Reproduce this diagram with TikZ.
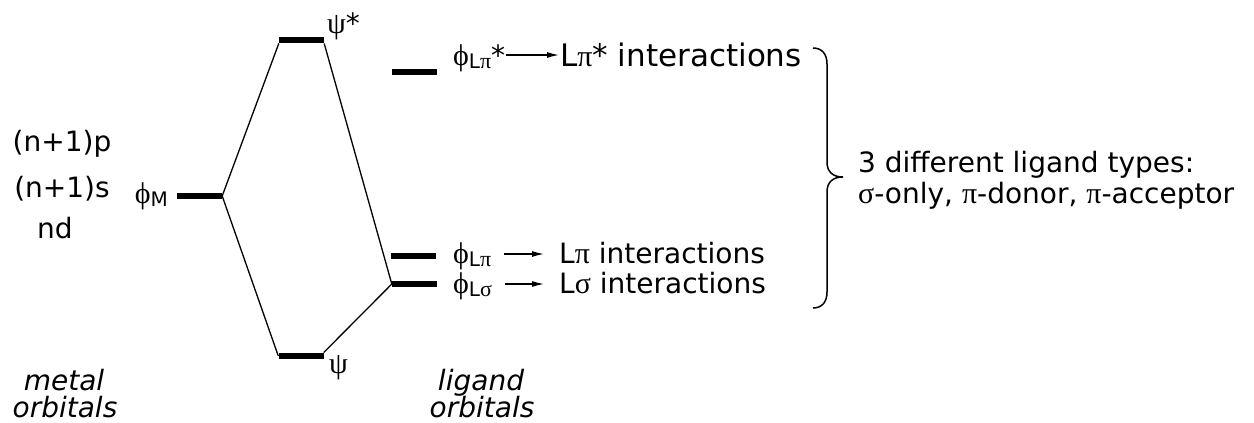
\documentclass[tikz,border=0pt]{standalone}
\usepackage{fontspec}
\setmainfont{DejaVu Sans}
\newfontfamily\gk{Liberation Serif}
\usetikzlibrary{arrows.meta}
\newcommand{\G}[1]{{\gk\fontsize{30}{30}\selectfont #1}}
\newcommand{\Sb}[1]{\raisebox{-3pt}{\fontsize{20}{20}\selectfont #1}}
\newcommand{\Sg}[1]{{\gk\fontsize{22}{22}\selectfont #1}}
\begin{document}
\begin{tikzpicture}[x=1pt,y=-1pt,
  every node/.style={font=\fontsize{28}{34}\selectfont, inner sep=1pt},
  lvl/.style={fill=black, minimum width=45pt, minimum height=6.5pt, inner sep=0pt},
  conn/.style={line width=1.3pt},
  arr/.style={line width=1.3pt, -{Latex[length=12pt,width=6pt]}},
  brace/.style={line width=1.5pt}]
\useasboundingbox (0,0) rectangle (1254,423);
% levels
\node[lvl] (M)   at (199.5,196) {};
\node[lvl] (Pst) at (301.5,40) {};
\node[lvl] (Psi) at (301,356) {};
\node[lvl] (Lps) at (414.5,72) {};
\node[lvl] (Lp)  at (413.5,256) {};
\node[lvl] (Ls)  at (414.5,284) {};
% connectors
\draw[conn] (M.east) -- (Pst.south west);
\draw[conn] (M.east) -- (Psi.west);
\draw[conn] (Pst.south east) -- (Ls.west);
\draw[conn] (Psi.north east) -- (Ls.west);
% metal labels
\node[anchor=base] (np) at (62,151) {(n+1)p};
\node[anchor=base] (ns) at (62,197) {(n+1)s};
\node[anchor=base] (nd) at (55,238) {nd};
\node[anchor=base east] (phiM) at (169,203) {\G{ϕ}\Sb{M}};
\node[anchor=base west] (lpst) at (326,34) {\G{ψ}*};
\node[anchor=base west] (lpsi) at (328,373) {\G{ψ}};
% ligand rows
\node[anchor=base west] (r1l) at (452,65) {\G{ϕ}\Sb{L\Sg{π}}*};
\node[anchor=base west, font=\fontsize{31}{36}\selectfont] (r1t) at (559,66) {L\G{π}* interactions};
\node[anchor=base west] (r2l) at (452,263) {\G{ϕ}\Sb{L\Sg{π}}};
\node[anchor=base west] (r2t) at (558,263) {L\G{π} interactions};
\node[anchor=base west] (r3l) at (452,293) {\G{ϕ}\Sb{L\Sg{σ}}};
\node[anchor=base west] (r3t) at (558,293) {L\G{σ} interactions};
\coordinate (y1) at (0,55);
\coordinate (y2) at (0,254);
\coordinate (y3) at (0,284);
\draw[arr] (r1l.east |- y1) -- (r1t.west |- y1);
\draw[arr] ([xshift=12pt]r2l.east |- y2) -- ([xshift=-14pt]r2t.west |- y2);
\draw[arr] ([xshift=12pt]r3l.east |- y3) -- ([xshift=-14pt]r3t.west |- y3);
% brace
\draw[brace] (813,48) .. controls (822,48) and (827,54) .. (827,64) -- (827,162)
  .. controls (827,172) and (833,177) .. (843,177)
  .. controls (833,177) and (827,182) .. (827,192) -- (827,292)
  .. controls (827,302) and (822,308) .. (813,308);
\node[anchor=base west] (t1) at (857,172) {3 different ligand types:};
\node[anchor=base west] (t2) at (857,203) {\G{σ}-only, \G{π}-donor, \G{π}-acceptor};
% bottom labels
\node[anchor=base, inner sep=0pt] (mo1) at (64,390) {\itshape metal};
\node[anchor=base, inner sep=0pt] (mo2) at (65,417) {\itshape orbitals};
\node[anchor=base, inner sep=0pt] (lo1) at (481,390) {\itshape ligand};
\node[anchor=base, inner sep=0pt] (lo2) at (482,417) {\itshape orbitals};
\end{tikzpicture}
\end{document}
